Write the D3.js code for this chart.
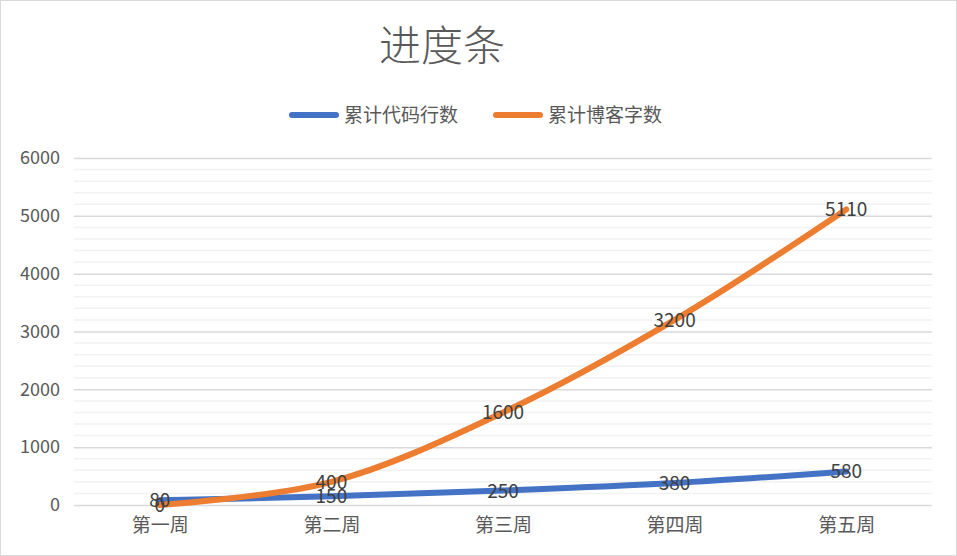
<!DOCTYPE html>
<html><head><meta charset="utf-8">
<script src="https://cdn.jsdelivr.net/npm/d3@7"></script>
<style>body{margin:0;background:#fff}text{font-family:"Noto Sans CJK SC","Liberation Sans",sans-serif}</style>
</head><body>
<svg id="chart" width="957" height="556"></svg>
<script>
const categories = ["第一周", "第二周", "第三周", "第四周", "第五周"];
const codeLines = [80, 150, 250, 380, 580];
const blogWords = [0, 400, 1600, 3200, 5110];
const yTicks = [0, 1000, 2000, 3000, 4000, 5000, 6000];
const series = [
  { name: "累计代码行数", values: codeLines, color: "#4472C4" },
  { name: "累计博客字数", values: blogWords, color: "#ED7D31" }
];

const svg = d3.select("#chart");
const margin = { top: 158, right: 25, bottom: 51, left: 74 };
const width = 957, height = 556;

svg.append("rect").attr("x", 0.5).attr("y", 0.5).attr("width", width - 1).attr("height", height - 1)
  .attr("fill", "#fff").attr("stroke", "#d9d9d9");

const x = d3.scalePoint().domain(categories).range([margin.left, width - margin.right]).padding(0.5);
const y = d3.scaleLinear().domain([0, 6000]).range([height - margin.bottom, margin.top]);

// minor grid
svg.append("g").selectAll("line").data(d3.range(0, 6001, 200).filter(v => v % 1000))
  .join("line").attr("x1", margin.left).attr("x2", width - margin.right)
  .attr("y1", d => y(d)).attr("y2", d => y(d)).attr("stroke", "#f2f2f2").attr("stroke-width", 1.5);

const yAxis = svg.append("g").attr("transform", `translate(${margin.left},0)`)
  .call(d3.axisLeft(y).tickValues(yTicks).tickFormat(d3.format("d"))
    .tickSize(-(width - margin.left - margin.right)).tickPadding(14));
yAxis.select(".domain").remove();
yAxis.selectAll("line").attr("stroke", "#d9d9d9").attr("stroke-width", 1.5);
yAxis.selectAll("text").attr("fill", "#595959").attr("font-size", 18).attr("font-family", "Liberation Sans");

const xAxis = svg.append("g").attr("transform", `translate(0,${height - margin.bottom})`)
  .call(d3.axisBottom(x).tickSize(0).tickPadding(14));
xAxis.select(".domain").remove();
xAxis.selectAll("text").attr("fill", "#595959").attr("font-size", 19);

const line = d3.line().x((d, i) => x(categories[i])).y(d => y(d)).curve(d3.curveCatmullRom.alpha(0.5));
series.forEach(s => {
  svg.append("path").datum(s.values).attr("fill", "none").attr("stroke", s.color)
    .attr("stroke-width", 6).attr("stroke-linecap", "round").attr("d", line);
});
series.forEach(s => {
  svg.append("g").selectAll("text").data(s.values).join("text")
    .attr("x", (d, i) => x(categories[i])).attr("y", d => y(d) + 7)
    .attr("text-anchor", "middle").attr("font-size", 19).attr("font-family", "Liberation Sans")
    .attr("fill", "#404040").text(d => d);
});

svg.append("text").attr("x", 442).attr("y", 61).attr("text-anchor", "middle")
  .attr("font-size", 42).attr("font-weight", 300).attr("fill", "#595959").text("进度条");

const legend = svg.append("g");
const lx = [292, 496];
series.forEach((s, i) => {
  legend.append("line").attr("x1", lx[i]).attr("x2", lx[i] + 44).attr("y1", 115).attr("y2", 115)
    .attr("stroke", s.color).attr("stroke-width", 6).attr("stroke-linecap", "round");
  legend.append("text").attr("x", lx[i] + 52).attr("y", 122).attr("font-size", 19)
    .attr("fill", "#595959").text(s.name);
});
</script>
</body></html>
